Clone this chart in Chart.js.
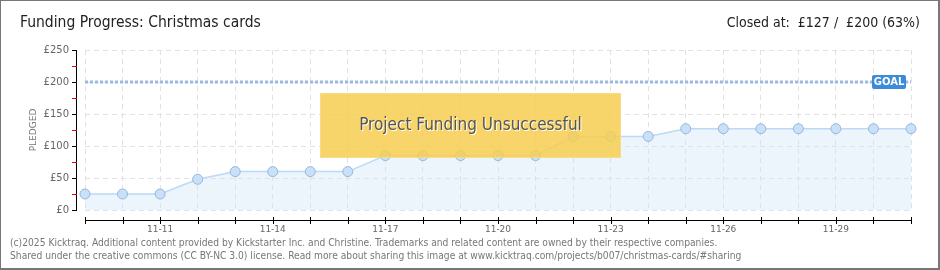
<!DOCTYPE html>
<html>
<head>
<meta charset="utf-8">
<script src="https://cdn.jsdelivr.net/npm/chart.js@4"></script>
<style>
  html, body { margin: 0; padding: 0; background: #fff; }
  #wrap { position: relative; width: 940px; height: 270px; box-sizing: border-box; border: 1px solid #777; border-right-width: 2px; border-bottom-width: 2px; overflow: hidden; }
  #chart { position: absolute; left: -1px; top: -1px; }
  .title { position: absolute; top: 12px; font-family: "DejaVu Sans Condensed", "DejaVu Sans", sans-serif; font-size: 15.5px; color: #222; white-space: nowrap; }
  .foot { position: absolute; left: 9px; font-family: "DejaVu Sans Condensed", "DejaVu Sans", sans-serif; font-size: 10.2px; color: #777; white-space: nowrap; }
</style>
</head>
<body>
<div id="wrap">
  <canvas id="chart" width="940" height="270"></canvas>
  <div class="title" style="left:19px">Funding Progress: Christmas cards</div>
  <div class="title" style="right:18px; font-size:14px; top:13px">Closed at:&nbsp; £127 / &nbsp;£200 (63%)</div>
  <div class="foot" style="top:236px">(c)2025 Kicktraq. Additional content provided by Kickstarter Inc. and Christine. Trademarks and related content are owned by their respective companies.</div>
  <div class="foot" style="top:249px">Shared under the creative commons (CC BY-NC 3.0) license. Read more about sharing this image at www.kicktraq.com/projects/b007/christmas-cards/#sharing</div>
</div>
<script>
// ── Data ─────────────────────────────────────────────────────────────────────
const DAYS = ['11-09','11-10','11-11','11-12','11-13','11-14','11-15','11-16','11-17','11-18','11-19','11-20',
              '11-21','11-22','11-23','11-24','11-25','11-26','11-27','11-28','11-29','11-30','12-01'];
const SHOWN_DAYS = ['11-11','11-14','11-17','11-20','11-23','11-26','11-29'];
const PLEDGED = [25,25,25,48,60,60,60,60,85,85,85,85,85,115,115,115,127,127,127,127,127,127,127];
const GOAL = 200;
const Y_MAX = 250;
const Y_STEP = 50;

const AXIS_FONT = { family: "'DejaVu Sans', sans-serif", size: 10 };
const GRID = { color: '#e2e2e2', tickColor: 'transparent' };

// custom axes, goal badge and the "unsuccessful" banner
const overlay = {
  id: 'overlay',
  afterDatasetsDraw(chart) {
    const { ctx, chartArea: a, scales: { x, y } } = chart;
    ctx.save();
    // y axis line + ticks (black at labels, red halfway)
    ctx.fillStyle = '#000';
    ctx.fillRect(76, a.top, 1, a.bottom - a.top + 1);
    for (let v = 0; v <= Y_MAX; v += Y_STEP / 2) {
      const py = Math.round(y.getPixelForValue(v));
      ctx.fillStyle = v % Y_STEP === 0 ? '#000' : '#e00';
      ctx.fillRect(72, py, 5, 1);
    }
    // x axis line + ticks
    ctx.fillStyle = '#000';
    const ay = Math.round(a.bottom) + 10;
    ctx.fillRect(a.left, ay, a.right - a.left + 1, 1);
    DAYS.forEach((_, i) => {
      const px = Math.round(x.getPixelForValue(i));
      ctx.fillRect(px, ay - 3, 1, 7);
    });
    // goal badge
    const gy = y.getPixelForValue(GOAL);
    ctx.fillStyle = '#3d8bd8';
    ctx.beginPath(); ctx.roundRect(a.right - 39, gy - 7, 34, 14, 2); ctx.fill();
    ctx.fillStyle = '#fff';
    ctx.font = "bold 10px 'DejaVu Sans', sans-serif";
    ctx.textAlign = 'center'; ctx.textBaseline = 'middle';
    ctx.fillText('GOAL', a.right - 22, gy);
    // banner
    const bx = a.left + 235, by = 93, bw = 301, bh = 65;
    ctx.fillStyle = 'rgba(247,206,80,0.85)';
    ctx.fillRect(bx, by, bw, bh);
    ctx.strokeStyle = '#f6dc85'; ctx.lineWidth = 1;
    ctx.strokeRect(bx + 0.5, by + 0.5, bw - 1, bh - 1);
    ctx.font = "17px 'DejaVu Sans Condensed', 'DejaVu Sans', sans-serif";
    ctx.fillStyle = '#fff';
    ctx.fillText('Project Funding Unsuccessful', bx + bw / 2 + 1, by + 34);
    ctx.fillStyle = '#555';
    ctx.fillText('Project Funding Unsuccessful', bx + bw / 2, by + 33);
    ctx.restore();
  }
};

new Chart(document.getElementById('chart'), {
  type: 'line',
  data: {
    labels: DAYS,
    datasets: [
      {
        label: 'Goal',
        data: DAYS.map(() => GOAL),
        borderColor: '#98bae4',
        borderWidth: 3,
        borderDash: [3, 2],
        pointRadius: 0,
        fill: false,
      },
      {
        label: 'Pledged',
        data: PLEDGED,
        borderColor: '#bcd9f5',
        borderWidth: 1.5,
        backgroundColor: 'rgba(205,225,248,0.38)',
        fill: 'origin',
        tension: 0,
        pointRadius: 5,
        pointBackgroundColor: '#c8e0f8',
        pointBorderColor: '#98b6dc',
        pointBorderWidth: 1,
      },
    ],
  },
  options: {
    responsive: false,
    animation: false,
    layout: { padding: { left: 22, right: 29, top: 50, bottom: 30 } },
    plugins: { legend: { display: false }, tooltip: { enabled: false } },
    scales: {
      x: {
        offset: false,
        afterFit: s => { s.height = 30; },
        border: { display: false, dash: [5, 4] },
        grid: { ...GRID, tickLength: 12 },
        ticks: {
          autoSkip: false, maxRotation: 0, padding: 2, color: '#666', font: { ...AXIS_FONT, size: 9 },
          callback: (v, i) => SHOWN_DAYS.includes(DAYS[i]) ? DAYS[i] : '',
        },
      },
      y: {
        min: 0, max: Y_MAX,
        afterFit: s => { s.width = 63; },
        border: { display: false, dash: [5, 4] },
        grid: { ...GRID, tickLength: 14 },
        ticks: { stepSize: Y_STEP, padding: 2, color: '#666', font: AXIS_FONT, callback: v => '£' + v },
        title: { display: true, text: 'PLEDGED', color: '#777', font: { family: "'DejaVu Sans', sans-serif", size: 9 }, padding: { top: 6, bottom: 0 } },
      },
    },
  },
  plugins: [overlay],
});
</script>
</body>
</html>
